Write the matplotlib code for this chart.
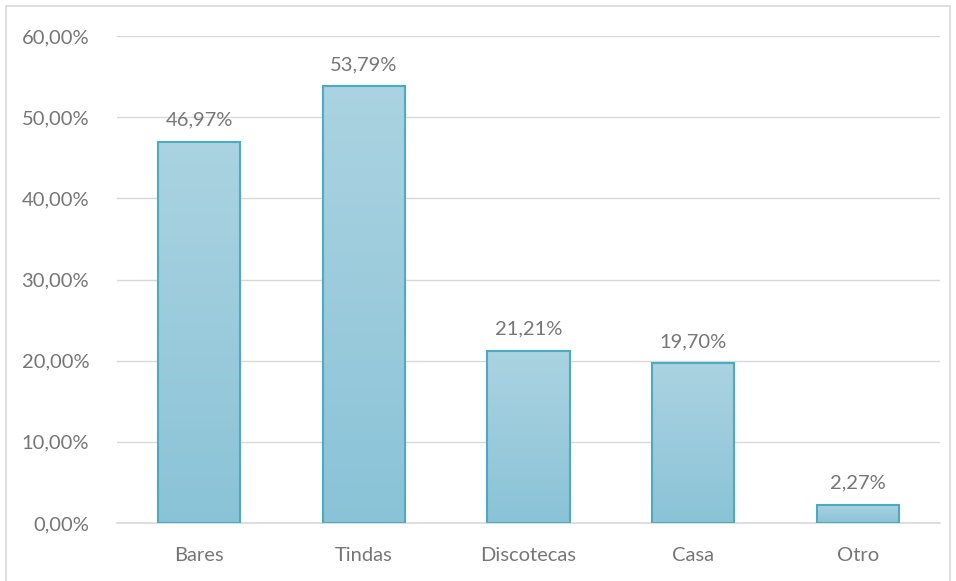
import matplotlib.pyplot as plt
import numpy as np
from matplotlib.patches import Rectangle

categories = ['Bares', 'Tindas', 'Discotecas', 'Casa', 'Otro']
values = [46.97, 53.79, 21.21, 19.70, 2.27]
yticks = [0, 10, 20, 30, 40, 50, 60]

plt.rcParams['font.family'] = ['Lato', 'DejaVu Sans']
text_color = '#767676'

fig = plt.figure(figsize=(9.56, 5.81), dpi=100)
ax = fig.add_axes([117 / 956, 1 - 523 / 581, 823 / 956, 487 / 581])

# border around the chart
fig.patches.append(Rectangle((6 / 956, -2 / 581), 944 / 956, 577 / 581, transform=fig.transFigure,
                             fill=False, edgecolor='#d9d9d9', linewidth=1.2))

x = np.arange(len(categories))
width = 0.5
grad = np.linspace(0, 1, 256).reshape(-1, 1)
top = np.array([0xAB, 0xD3, 0xE1]) / 255
bottom = np.array([0x8A, 0xC3, 0xD7]) / 255
cmap_img = top + (bottom - top) * grad[:, :, None]

for xi, v in zip(x, values):
    ax.imshow(cmap_img, extent=(xi - width / 2, xi + width / 2, 0, v), aspect='auto', zorder=2)
    ax.add_patch(Rectangle((xi - width / 2, 0), width, v, fill=False, edgecolor='#4AABC5',
                           linewidth=1.5, zorder=3))
    ax.text(xi, v + 1.6, f'{v:.2f}%'.replace('.', ','), ha='center', va='bottom',
            fontsize=14.5, color=text_color)

ax.set_xlim(-0.5, len(categories) - 0.5)
ax.set_ylim(0, 60)
ax.set_yticks(yticks)
ax.set_yticklabels([f'{t},00%' for t in yticks])
ax.set_xticks(x)
ax.set_xticklabels(categories)
ax.tick_params(axis='both', length=0, labelsize=14.5, labelcolor=text_color)
ax.tick_params(axis='y', pad=20)
ax.tick_params(axis='x', pad=17)
ax.grid(axis='y', color='#d9d9d9', linewidth=1)
ax.set_axisbelow(True)
for s in ['top', 'right', 'left']:
    ax.spines[s].set_visible(False)
ax.spines['bottom'].set_color('#d9d9d9')
ax.spines['bottom'].set_linewidth(1.2)

fig.savefig('out.png', dpi=100)
